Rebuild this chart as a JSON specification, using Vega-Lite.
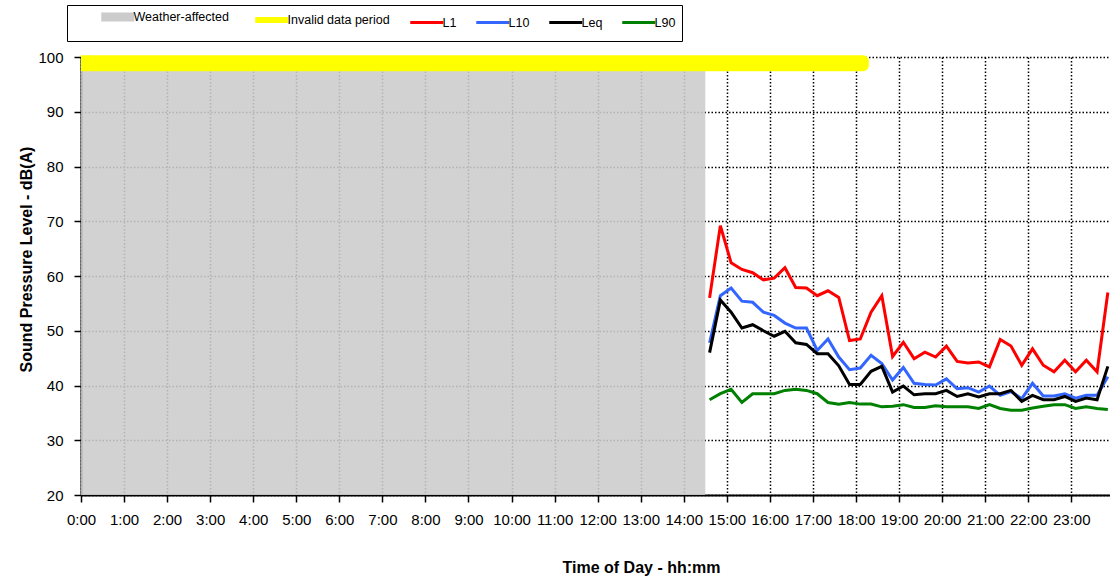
{
  "$schema": "https://vega.github.io/schema/vega-lite/v6.json",
  "width": 1029,
  "height": 438,
  "autosize": {"type": "none"},
  "padding": {"left": 81, "top": 57, "right": 0, "bottom": 89},
  "background": "white",
  "config": {"view": {"stroke": null}, "font": "Liberation Sans"},
  "datasets": {
    "bands": [
      {"series": "Weather-affected", "x0": 0, "x1": 14.5, "y0": 20, "y1": 100},
      {"series": "Invalid data period", "x0": 0, "x1": 18.3, "y0": 97.4, "y1": 100.3}
    ],
    "levels": [
      {"t": 14.6, "L1": 56.0, "L10": 47.8, "Leq": 46.0, "L90": 37.4},
      {"t": 14.85, "L1": 69.2, "L10": 56.4, "Leq": 55.6, "L90": 38.5},
      {"t": 15.1, "L1": 62.4, "L10": 57.8, "Leq": 53.4, "L90": 39.3},
      {"t": 15.35, "L1": 61.2, "L10": 55.4, "Leq": 50.5, "L90": 36.9},
      {"t": 15.6, "L1": 60.6, "L10": 55.2, "Leq": 51.1, "L90": 38.5},
      {"t": 15.85, "L1": 59.3, "L10": 53.4, "Leq": 50.0, "L90": 38.5},
      {"t": 16.1, "L1": 59.6, "L10": 52.8, "Leq": 49.0, "L90": 38.5},
      {"t": 16.35, "L1": 61.5, "L10": 51.4, "Leq": 49.9, "L90": 39.1},
      {"t": 16.6, "L1": 57.9, "L10": 50.5, "Leq": 47.8, "L90": 39.3},
      {"t": 16.85, "L1": 57.8, "L10": 50.5, "Leq": 47.5, "L90": 39.1},
      {"t": 17.1, "L1": 56.4, "L10": 46.4, "Leq": 45.8, "L90": 38.5},
      {"t": 17.35, "L1": 57.3, "L10": 48.5, "Leq": 45.8, "L90": 36.9},
      {"t": 17.6, "L1": 56.1, "L10": 45.2, "Leq": 43.6, "L90": 36.6},
      {"t": 17.85, "L1": 48.2, "L10": 42.9, "Leq": 40.2, "L90": 36.9},
      {"t": 18.1, "L1": 48.5, "L10": 43.2, "Leq": 40.2, "L90": 36.6},
      {"t": 18.35, "L1": 53.4, "L10": 45.5, "Leq": 42.6, "L90": 36.6},
      {"t": 18.6, "L1": 56.4, "L10": 44.0, "Leq": 43.5, "L90": 36.1},
      {"t": 18.85, "L1": 45.3, "L10": 41.0, "Leq": 38.8, "L90": 36.2},
      {"t": 19.1, "L1": 47.9, "L10": 43.3, "Leq": 39.9, "L90": 36.5},
      {"t": 19.35, "L1": 44.9, "L10": 40.4, "Leq": 38.3, "L90": 36.0},
      {"t": 19.6, "L1": 46.1, "L10": 40.2, "Leq": 38.5, "L90": 36.0},
      {"t": 19.85, "L1": 45.2, "L10": 40.1, "Leq": 38.5, "L90": 36.3},
      {"t": 20.1, "L1": 47.2, "L10": 41.2, "Leq": 39.1, "L90": 36.1},
      {"t": 20.35, "L1": 44.4, "L10": 39.4, "Leq": 38.0, "L90": 36.1},
      {"t": 20.6, "L1": 44.1, "L10": 39.6, "Leq": 38.5, "L90": 36.1},
      {"t": 20.85, "L1": 44.3, "L10": 38.8, "Leq": 37.9, "L90": 35.8},
      {"t": 21.1, "L1": 43.4, "L10": 39.9, "Leq": 38.5, "L90": 36.5},
      {"t": 21.35, "L1": 48.4, "L10": 38.2, "Leq": 38.5, "L90": 35.8},
      {"t": 21.6, "L1": 47.2, "L10": 38.9, "Leq": 39.1, "L90": 35.5},
      {"t": 21.85, "L1": 43.7, "L10": 37.6, "Leq": 37.1, "L90": 35.5},
      {"t": 22.1, "L1": 46.7, "L10": 40.4, "Leq": 38.2, "L90": 35.9},
      {"t": 22.35, "L1": 43.7, "L10": 38.1, "Leq": 37.4, "L90": 36.2},
      {"t": 22.6, "L1": 42.5, "L10": 38.1, "Leq": 37.4, "L90": 36.5},
      {"t": 22.85, "L1": 44.6, "L10": 38.5, "Leq": 38.0, "L90": 36.5},
      {"t": 23.1, "L1": 42.5, "L10": 37.7, "Leq": 37.1, "L90": 35.8},
      {"t": 23.35, "L1": 44.6, "L10": 38.2, "Leq": 37.7, "L90": 36.1},
      {"t": 23.6, "L1": 42.5, "L10": 38.2, "Leq": 37.4, "L90": 35.8},
      {"t": 23.85, "L1": 57.0, "L10": 41.6, "Leq": 43.5, "L90": 35.6}
    ]
  },
  "layer": [
    {
      "data": {"name": "bands"},
      "transform": [{"filter": "datum.series === 'Weather-affected'"}],
      "mark": {"type": "rect", "opacity": 0.88},
      "encoding": {
        "x": {
          "field": "x0", "type": "quantitative",
          "scale": {"domain": [0, 23.9], "nice": false, "zero": false},
          "title": "Time of Day - hh:mm",
          "axis": {
            "values": [0,1,2,3,4,5,6,7,8,9,10,11,12,13,14,15,16,17,18,19,20,21,22,23],
            "labelExpr": "datum.value + ':00'",
            "grid": true, "gridColor": "black", "gridDash": [1.5, 2], "gridWidth": 1.5,
            "domainColor": "black", "domainWidth": 2,
            "tickColor": "black", "tickWidth": 1.5, "tickSize": 7,
            "labelPadding": 10, "labelFontSize": 15, "labelColor": "black", "labelDx": 3,
            "labelFont": "Liberation Sans", "labelFlush": false, "labelOverlap": false,
            "titleFont": "Liberation Sans", "titleFontSize": 16, "titleFontWeight": "bold",
            "titleColor": "black", "titleX": 560, "titleY": 77, "titleBaseline": "alphabetic",
            "titleAlign": "center"
          }
        },
        "x2": {"field": "x1"},
        "y": {
          "field": "y0", "type": "quantitative",
          "scale": {"domain": [20, 100], "nice": false, "zero": false},
          "title": "Sound Pressure Level - dB(A)",
          "axis": {
            "values": [20, 30, 40, 50, 60, 70, 80, 90, 100],
            "grid": true, "gridColor": "black", "gridDash": [1.5, 2], "gridWidth": 1.5,
            "domainColor": "black", "domainWidth": 2,
            "tickColor": "black", "tickWidth": 1.5, "tickSize": 7,
            "labelPadding": 11, "labelFontSize": 15, "labelColor": "black",
            "labelFont": "Liberation Sans",
            "titleFont": "Liberation Sans", "titleFontSize": 16, "titleFontWeight": "bold",
            "titleColor": "black", "titleX": -55, "titleY": 202, "titleBaseline": "middle",
            "titleAlign": "center", "titleAngle": -90
          }
        },
        "y2": {"field": "y1"},
        "color": {
          "field": "series", "type": "nominal",
          "scale": {
            "domain": ["Weather-affected", "Invalid data period", "L1", "L10", "Leq", "L90"],
            "range": ["#cccccc", "#ffff00", "#ff0000", "#3366ff", "#000000", "#008000"]
          },
          "legend": {
            "orient": "none", "legendX": -14, "legendY": -52, "direction": "horizontal",
            "title": " ", "titleOrient": "left", "titlePadding": 38.5, "titleFontSize": 12,
            "symbolType": "M-3.3,-0.1H3.3", "symbolSize": 100,
            "symbolStrokeWidth": {"expr": "datum.value === 'Weather-affected' ? 9 : datum.value === 'Invalid data period' ? 6 : 3"},
            "symbolOpacity": 1,
            "labelFont": "Liberation Sans", "labelFontSize": 12.5, "labelColor": "black",
            "strokeColor": "black", "fillColor": "white", "padding": 6,
            "columnPadding": 13, "labelOffset": 9.5
          }
        }
      }
    },
    {
      "data": {"name": "bands"},
      "transform": [{"filter": "datum.series === 'Invalid data period'"}],
      "mark": {"type": "rect", "cornerRadiusTopRight": 6, "cornerRadiusBottomRight": 6},
      "encoding": {
        "x": {"field": "x0", "type": "quantitative", "title": "Time of Day - hh:mm"},
        "x2": {"field": "x1"},
        "y": {"field": "y0", "type": "quantitative", "title": "Sound Pressure Level - dB(A)"},
        "y2": {"field": "y1"},
        "color": {"field": "series", "type": "nominal"}
      }
    },
    {
      "data": {"name": "levels"},
      "transform": [{"fold": ["L1", "L10", "Leq", "L90"], "as": ["series", "v"]}],
      "mark": {"type": "line", "strokeWidth": 3},
      "encoding": {
        "x": {"field": "t", "type": "quantitative", "title": "Time of Day - hh:mm"},
        "y": {"field": "v", "type": "quantitative", "title": "Sound Pressure Level - dB(A)"},
        "color": {"field": "series", "type": "nominal"}
      }
    }
  ]
}
